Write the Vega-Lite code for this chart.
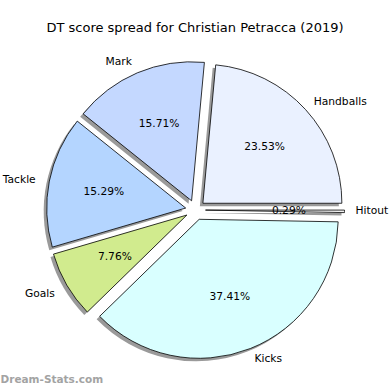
{
  "$schema": "https://vega.github.io/schema/vega-lite/v6.json",
  "width": 390,
  "height": 330,
  "padding": {"left": 0, "right": 0, "top": 40, "bottom": 20},
  "autosize": "none",
  "background": "white",
  "config": {"view": {"stroke": null}, "font": "DejaVu Sans"},
  "title": {"text": "DT score spread for Christian Petracca (2019)", "fontSize": 13, "fontWeight": "normal", "font": "DejaVu Sans", "color": "#000000", "offset": 5, "anchor": "middle"},
  "data": {"values": [
    {"category": "Hitout", "share": 0.29},
    {"category": "Kicks", "share": 37.41},
    {"category": "Goals", "share": 7.76},
    {"category": "Tackle", "share": 15.29},
    {"category": "Mark", "share": 15.71},
    {"category": "Handballs", "share": 23.53}
  ]},
  "transform": [
    {"window": [{"op": "row_number", "as": "ord"}]},
    {"stack": "share", "groupby": [], "sort": [{"field": "ord", "order": "ascending"}], "as": ["s0", "s1"]},
    {"calculate": "(datum.s0 + datum.s1) / 2", "as": "smid"},
    {"calculate": "PI / 2 + 2 * PI * datum.smid / 99.99", "as": "mid"},
    {"calculate": "10 * sin(datum.mid)", "as": "ex"},
    {"calculate": "10 * cos(datum.mid)", "as": "ey"},
    {"calculate": "format(datum.share, '.2f') + '%'", "as": "pct"}
  ],
  "encoding": {
    "x": {"field": "ex", "type": "quantitative", "scale": {"domain": [-195.5, 194.5], "nice": false, "zero": false},
      "axis": {"title": "Dream-Stats.com", "domain": false, "ticks": false, "labels": false, "grid": false, "titleAnchor": "start", "titleAlign": "left", "titleFont": "DejaVu Sans", "titleFontSize": 10.5, "titleFontWeight": "bold", "titleColor": "#a3a3a3", "titlePadding": 4}},
    "y": {"field": "ey", "type": "quantitative", "scale": {"domain": [-160, 170], "nice": false, "zero": false}, "axis": null}
  },
  "layer": [
    {
      "mark": {"type": "arc", "radius": 139, "fill": "#9a9a9a", "xOffset": -3, "yOffset": 3, "strokeWidth": 0},
      "encoding": {
        "theta": {"field": "s0", "type": "quantitative", "stack": null, "scale": {"domain": [0, 99.99], "range": [1.5707963, 7.8539816]}},
        "theta2": {"field": "s1"}
      }
    },
    {
      "mark": {"type": "arc", "radius": 139, "stroke": "#000000", "strokeWidth": 0.8},
      "encoding": {
        "theta": {"field": "s0", "type": "quantitative", "stack": null, "scale": {"domain": [0, 99.99], "range": [1.5707963, 7.8539816]}},
        "theta2": {"field": "s1"},
        "fill": {"field": "category", "type": "nominal", "legend": null,
          "scale": {"domain": ["Hitout", "Kicks", "Goals", "Tackle", "Mark", "Handballs"],
                    "range": ["#F2F2F2", "#D9FFFF", "#D1EB8E", "#B4D5FF", "#C4D8FF", "#EAF1FF"]}}
      }
    },
    {
      "transform": [{"filter": "datum.ex < 0"}],
      "mark": {"type": "text", "radius": 152.9, "align": "right", "baseline": "middle", "fontSize": 10.7, "font": "DejaVu Sans", "color": "#000000", "dy": 2},
      "encoding": {
        "theta": {"field": "smid", "type": "quantitative", "stack": null, "scale": {"domain": [0, 99.99], "range": [1.5707963, 7.8539816]}},
        "text": {"field": "category"}
      }
    },
    {
      "transform": [{"filter": "datum.ex >= 0"}],
      "mark": {"type": "text", "radius": 150, "align": "left", "baseline": "middle", "fontSize": 10.7, "font": "DejaVu Sans", "color": "#000000"},
      "encoding": {
        "theta": {"field": "smid", "type": "quantitative", "stack": null, "scale": {"domain": [0, 99.99], "range": [1.5707963, 7.8539816]}},
        "text": {"field": "category"}
      }
    },
    {
      "mark": {"type": "text", "radius": 83.4, "align": "center", "baseline": "middle", "fontSize": 10.7, "font": "DejaVu Sans", "color": "#000000"},
      "encoding": {
        "theta": {"field": "smid", "type": "quantitative", "stack": null, "scale": {"domain": [0, 99.99], "range": [1.5707963, 7.8539816]}},
        "text": {"field": "pct"}
      }
    }
  ]
}
